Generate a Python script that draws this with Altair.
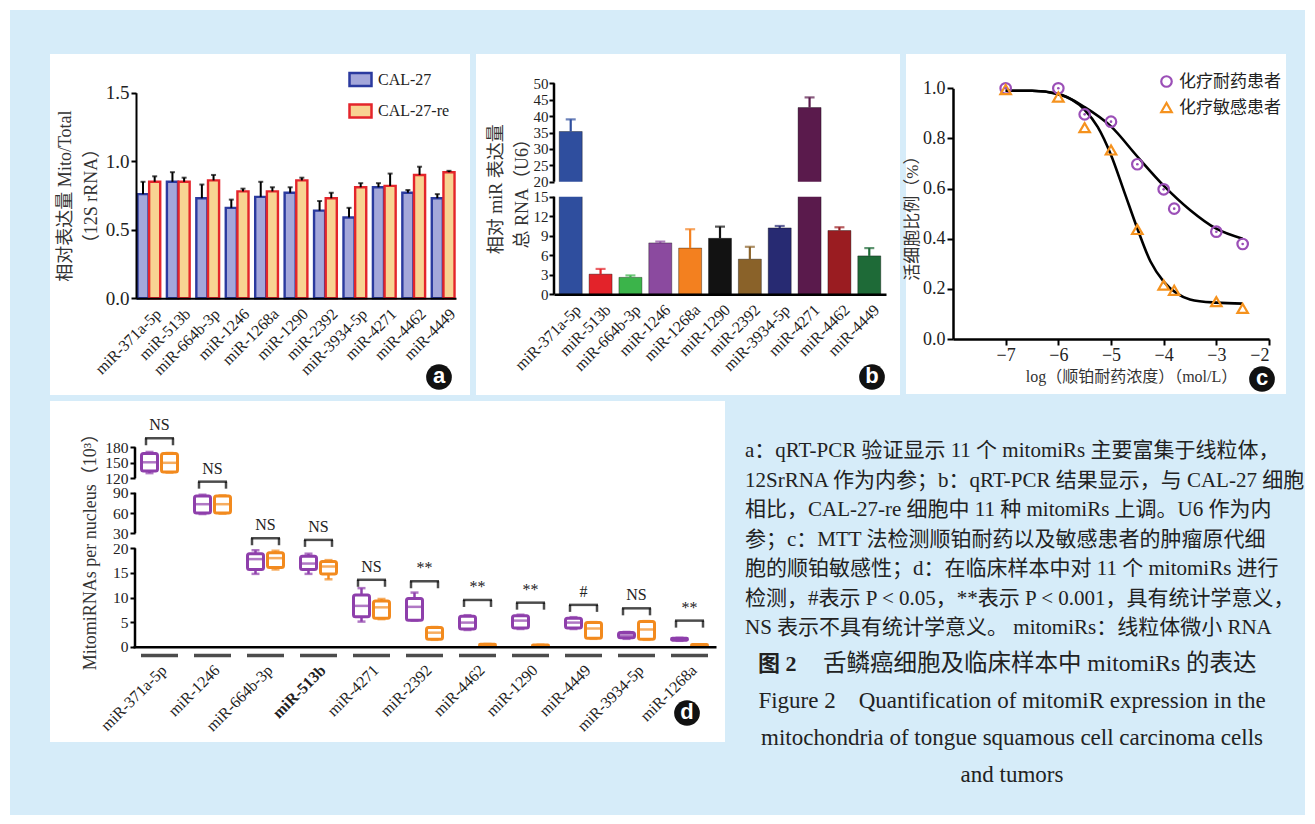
import altair as alt
import pandas as pd

H = 824
SERIF = "Liberation Serif"
MIX = "Liberation Serif, Noto Sans CJK SC"
CJK = "Noto Sans CJK SC"

# ---------------- data ----------------
mirs_ab = ["miR-371a-5p", "miR-513b", "miR-664b-3p", "miR-1246", "miR-1268a", "miR-1290",
           "miR-2392", "miR-3934-5p", "miR-4271", "miR-4462", "miR-4449"]
series_a = ["CAL-27", "CAL-27-re"]
a_cal27 = [0.76, 0.85, 0.73, 0.66, 0.74, 0.77, 0.64, 0.59, 0.81, 0.77, 0.73]
a_cal27_top = [0.85, 0.92, 0.83, 0.72, 0.85, 0.81, 0.71, 0.66, 0.84, 0.79, 0.76]
a_cal27re = [0.85, 0.85, 0.86, 0.78, 0.78, 0.86, 0.73, 0.81, 0.82, 0.90, 0.92]
a_cal27re_top = [0.89, 0.88, 0.90, 0.80, 0.81, 0.88, 0.77, 0.84, 0.91, 0.96, 0.93]

b_values = [35.3, 3.1, 2.6, 7.9, 7.1, 8.6, 5.4, 10.2, 42.6, 9.8, 5.9]
b_tops = [39.0, 3.9, 2.9, 8.1, 10.0, 10.4, 7.3, 10.5, 45.7, 10.3, 7.1]
b_colors = ["#2f4e9e", "#e3232a", "#3bb44a", "#8b4a9f", "#f3801f", "#121212",
            "#8a6229", "#272a72", "#5a1a4c", "#9a1c21", "#1e6a37"]
b_seg_lo = [0, 20]
b_seg_hi = [15, 50]
b_ticks = [0, 3, 6, 9, 12, 15, 20, 25, 30, 35, 40, 45, 50]

c_groups = ["化疗耐药患者", "化疗敏感患者"]
c_x = [-7, -6, -5.5, -5, -4.5, -4, -3.8, -3, -2.5]
c_resistant = [1.0, 1.0, 0.896, 0.867, 0.697, 0.597, 0.52, 0.428, 0.379]
c_sensitive = [0.995, 0.965, 0.843, 0.754, 0.437, 0.215, 0.194, 0.149, 0.122]
c_fit_res_x = [-7, -6.5, -6, -5.5, -5, -4.5, -4, -3.5, -3, -2.5]
c_fit_res_y = [0.99, 0.99, 0.978, 0.925, 0.848, 0.728, 0.612, 0.515, 0.44, 0.40]
c_fit_sen_x = [-7, -6.5, -6, -5.5, -5.25, -5, -4.75, -4.5, -4.25, -4, -3.75, -3.5, -3, -2.5]
c_fit_sen_y = [0.99, 0.99, 0.976, 0.914, 0.845, 0.734, 0.588, 0.441, 0.309, 0.229, 0.182, 0.158, 0.145, 0.141]

d_mirs = ["miR-371a-5p", "miR-1246", "miR-664b-3p", "miR-513b", "miR-4271", "miR-2392",
          "miR-4462", "miR-1290", "miR-4449", "miR-3934-5p", "miR-1268a"]
d_groups = ["化疗耐药患者", "化疗敏感患者"]
d_res_lo = [130, 58.5, 14.8, 14.8, 5.1, 5.3, 3.4, 3.6, 3.6, 1.6, 1.2]
d_res_q1 = [134, 60, 15.7, 15.7, 6.1, 5.4, 3.6, 3.8, 3.8, 1.8, 1.3]
d_res_med = [151, 73, 17.8, 16.9, 8.3, 8.1, 4.9, 5.3, 4.9, 2.3, 1.5]
d_res_q3 = [168, 85, 18.9, 18.4, 10.5, 9.8, 6.2, 6.3, 5.8, 2.9, 1.7]
d_res_hi = [171, 87, 19.6, 18.9, 11.9, 11.0, 6.4, 6.5, 6.0, 3.0, 1.8]
d_sen_lo = [131, 59, 15.7, 13.7, 5.6, 1.4, 0.05, 0.05, 1.6, 1.4, 0.05]
d_sen_q1 = [132, 60, 16.1, 14.8, 5.8, 1.5, 0.1, 0.1, 1.7, 1.5, 0.1]
d_sen_med = [150, 73, 18.0, 16.3, 8.0, 2.85, 0.3, 0.2, 3.7, 3.5, 0.3]
d_sen_q3 = [168, 85, 19.1, 17.3, 9.3, 3.9, 0.5, 0.35, 4.9, 5.1, 0.45]
d_sen_hi = [169, 86, 19.5, 17.6, 9.7, 4.0, 0.55, 0.4, 5.0, 5.2, 0.5]
d_bracket = [197.5, 113, 26.7, 25.6, 13.6, 13.3, 9.5, 8.95, 8.5, 7.8, 5.3]
d_sig = ["NS", "NS", "NS", "NS", "NS", "**", "**", "**", "#", "NS", "**"]
d_seg_lo = [0, 30, 120]
d_seg_hi = [20, 90, 180]
d_ticks = [0, 5, 10, 15, 20, 30, 60, 90, 120, 150, 180]

caption_body = [
    "a：qRT-PCR 验证显示 11 个 mitomiRs 主要富集于线粒体，",
    "12SrRNA 作为内参；b：qRT-PCR 结果显示，与 CAL-27 细胞",
    "相比，CAL-27-re 细胞中 11 种 mitomiRs 上调。U6 作为内",
    "参；c：MTT 法检测顺铂耐药以及敏感患者的肿瘤原代细",
    "胞的顺铂敏感性；d：在临床样本中对 11 个 mitomiRs 进行",
    "检测，#表示 P < 0.05，**表示 P < 0.001，具有统计学意义，",
    "NS 表示不具有统计学意义。 mitomiRs：线粒体微小 RNA",
]
caption_fig_cn_a = "图 2"
caption_fig_cn_b = "舌鳞癌细胞及临床样本中 mitomiRs 的表达"
caption_fig_en = [
    "Figure 2　Quantification of mitomiR expression in the",
    "mitochondria of tongue squamous cell carcinoma cells",
    "and tumors",
]

one = pd.DataFrame({"k": [0]})

# ---------------- background panels ----------------
def box_rect(x0, x1, y0, y1, color):
    return alt.Chart(one).mark_rect(color=color).encode(
        x=alt.value(x0), x2=alt.value(x1), y=alt.value(y0), y2=alt.value(y1))

bg = alt.layer(
    box_rect(10, 1305, 10, 815, "#d6ecf9"),
    box_rect(50, 470, 54, 395, "white"),
    box_rect(476, 900, 54, 395, "white"),
    box_rect(906, 1286, 54, 394, "white"),
    box_rect(50, 725, 401, 742, "white"),
)

common_axis = dict(domainColor="black", tickColor="black", labelColor="#222",
                   titleColor="#333", grid=False, zindex=1, labelOverlap=False)

# ---------------- panel a ----------------
df_a = pd.DataFrame({
    "mir": mirs_ab * 2,
    "series": [series_a[0]] * 11 + [series_a[1]] * 11,
    "value": a_cal27 + a_cal27re,
    "top": a_cal27_top + a_cal27re_top,
})
xa = alt.X("mir:N", scale=alt.Scale(domain=mirs_ab, range=[136, 456], paddingInner=0.227, paddingOuter=0.05),
           axis=alt.Axis(orient="bottom", offset=298.3 - H, title=None, labelAngle=-45, ticks=False,
                         domainWidth=2, labelFont=SERIF, labelFontSize=16, labelPadding=7, labelOffset=4,
                         **common_axis))
xoa = alt.XOffset("series:N", scale=alt.Scale(domain=series_a, paddingInner=0.05))
sc_ya = alt.Scale(domain=[0, 1.5], range=[298.3, 92.7], nice=False, zero=False)
ax_ya = alt.Axis(orient="left", offset=-136, values=[0, 0.5, 1.0, 1.5], format=".1f",
                 title=["相对表达量 Mito/Total", "（12S rRNA）"], titleFont=MIX, titleFontSize=18,
                 titleFontWeight="normal", titleLineHeight=26, titlePadding=5,
                 labelFont=SERIF, labelFontSize=19, tickSize=5, tickWidth=2, domainWidth=2, **common_axis)
leg_a = dict(orient="none", legendX=348, legendY=67, title=None, symbolType="M-1,-0.6H1V0.6H-1Z",
             symbolSize=484, symbolStrokeWidth=2.5, labelFont=SERIF, labelFontSize=16, labelOffset=5,
             rowPadding=6.5, padding=0, labelColor="#222")
base_a = alt.Chart(df_a)
bars_a = base_a.mark_bar(strokeWidth=2.4).encode(
    x=xa, xOffset=xoa,
    y=alt.Y("value:Q", scale=sc_ya, axis=ax_ya), y2=alt.datum(0),
    fill=alt.Fill("series:N", scale=alt.Scale(domain=series_a, range=["#a4a7da", "#f8d392"]),
                  legend=alt.Legend(**leg_a)),
    stroke=alt.Stroke("series:N", scale=alt.Scale(domain=series_a, range=["#2b3a9f", "#e4252b"]),
                      legend=alt.Legend(**leg_a)),
)
err_a = base_a.mark_rule(color="black", strokeWidth=2).encode(
    x=xa, xOffset=xoa, y=alt.Y("value:Q", scale=sc_ya, axis=ax_ya), y2="top:Q")
cap_a = base_a.mark_tick(color="black", thickness=2, size=5).encode(
    x=xa, xOffset=xoa, y=alt.Y("top:Q", scale=sc_ya, axis=ax_ya))
panel_a = alt.layer(bars_a, err_a, cap_a)

# ---------------- panel b ----------------
df_b = pd.DataFrame({"mir": mirs_ab, "value": b_values, "top": b_tops})
df_bseg = pd.DataFrame({"lo": b_seg_lo, "hi": b_seg_hi})
xb = alt.X("mir:N", scale=alt.Scale(domain=mirs_ab, range=[554, 886], paddingInner=0.23, paddingOuter=0.175),
           axis=alt.Axis(orient="bottom", offset=294.3 - H, title=None, labelAngle=-45, ticks=False,
                         domainWidth=2.5, labelFont=SERIF, labelFontSize=16, labelPadding=7, labelOffset=2,
                         **common_axis))
sc_yb = alt.Scale(domain=[0, 15, 20, 50], range=[294.3, 196.7, 181.7, 83.3], nice=False, zero=False)
ax_yb = alt.Axis(orient="left", offset=-554, values=b_ticks, domain=False,
                 title=["相对 miR 表达量", "总 RNA（U6）"], titleFont=MIX, titleFontSize=18,
                 titleFontWeight="normal", titleLineHeight=26, titlePadding=2,
                 labelFont=SERIF, labelFontSize=15, labelPadding=1, tickSize=5, tickWidth=2, **common_axis)
colb = alt.Color("mir:N", scale=alt.Scale(domain=mirs_ab, range=b_colors), legend=None)
base_b = alt.Chart(df_b)
bars_b = base_b.mark_bar(stroke="#000", strokeWidth=0.8, strokeOpacity=0.45).encode(
    x=xb, y=alt.Y("value:Q", scale=sc_yb, axis=ax_yb), y2=alt.datum(0), color=colb)
err_b = base_b.mark_rule(strokeWidth=2.2).encode(
    x=xb, y=alt.Y("value:Q", scale=sc_yb, axis=ax_yb), y2="top:Q", color=colb)
cap_b = base_b.mark_tick(thickness=2.2, size=10).encode(
    x=xb, y=alt.Y("top:Q", scale=sc_yb, axis=ax_yb), color=colb)
gap_b = alt.Chart(one).mark_rect(color="white").encode(
    x=alt.value(556), x2=alt.value(892), y=alt.Y(datum=15, scale=sc_yb, axis=ax_yb), y2=alt.datum(20))
axis_b = alt.Chart(df_bseg).mark_rule(color="black", strokeWidth=2.5).encode(
    x=alt.value(554), y=alt.Y("lo:Q", scale=sc_yb, axis=ax_yb), y2="hi:Q")
panel_b = alt.layer(bars_b, err_b, cap_b, gap_b, axis_b)

# ---------------- panel c ----------------
df_c = pd.DataFrame({
    "x": c_x * 2,
    "y": c_resistant + c_sensitive,
    "grp": [c_groups[0]] * len(c_x) + [c_groups[1]] * len(c_x),
})
df_cfit = pd.DataFrame({
    "x": c_fit_res_x + c_fit_sen_x,
    "y": c_fit_res_y + c_fit_sen_y,
    "curve": ["r"] * len(c_fit_res_x) + ["s"] * len(c_fit_sen_x),
})
xc_scale = alt.Scale(domain=[-8, -2], range=[953, 1269], nice=False, zero=False)
ax_xc = alt.Axis(orient="bottom", offset=339 - H, values=[-7, -6, -5, -4, -3, -2], format="d",
                 title="log（顺铂耐药浓度）（mol/L）", titleFont=MIX, titleFontSize=16,
                 titleFontWeight="normal", titleX=1131, titleY=37, titleBaseline="middle",
                 labelFont=SERIF, labelFontSize=18, tickSize=6, tickWidth=2, domainWidth=2.5,
                 labelPadding=1, **common_axis)
yc_scale = alt.Scale(domain=[0, 1], range=[339, 88.3], nice=False, zero=False)
ax_yc = alt.Axis(orient="left", offset=-953, values=[0, 0.2, 0.4, 0.6, 0.8, 1.0], format=".1f",
                 title="活细胞比例（%）", titleFont=MIX, titleFontSize=17, titleFontWeight="normal",
                 titlePadding=1, labelFont=SERIF, labelFontSize=18, tickSize=6, tickWidth=2,
                 domainWidth=2.5, labelPadding=2, **common_axis)
leg_c = dict(orient="none", legendX=1158, legendY=73, title=None, symbolSize=110, symbolStrokeWidth=2.2,
             labelFont=CJK, labelFontSize=17, labelOffset=4, rowPadding=6, padding=0, labelColor="#222")
lines_c = alt.Chart(df_cfit).mark_line(color="black", strokeWidth=2.6, interpolate="monotone").encode(
    x=alt.X("x:Q", scale=xc_scale, axis=ax_xc), y=alt.Y("y:Q", scale=yc_scale, axis=ax_yc),
    detail="curve:N")
pts_c = alt.Chart(df_c).mark_point(filled=False, size=110, strokeWidth=2.2, opacity=1).encode(
    x=alt.X("x:Q", scale=xc_scale, axis=ax_xc), y=alt.Y("y:Q", scale=yc_scale, axis=ax_yc),
    shape=alt.Shape("grp:N", scale=alt.Scale(domain=c_groups, range=["circle", "triangle-up"]),
                    legend=alt.Legend(**leg_c)),
    stroke=alt.Stroke("grp:N", scale=alt.Scale(domain=c_groups, range=["#9b4fb7", "#f5921e"]),
                      legend=alt.Legend(**leg_c)),
)
dots_c = alt.Chart(df_c).transform_filter(alt.datum.grp == c_groups[0]).mark_point(
    filled=True, size=7, color="#9b4fb7", opacity=1).encode(
    x=alt.X("x:Q", scale=xc_scale, axis=ax_xc), y=alt.Y("y:Q", scale=yc_scale, axis=ax_yc))
panel_c = alt.layer(lines_c, pts_c, dots_c)

# ---------------- panel d ----------------
df_d = pd.DataFrame({
    "mir": d_mirs * 2,
    "grp": [d_groups[0]] * 11 + [d_groups[1]] * 11,
    "lo": d_res_lo + d_sen_lo,
    "q1": d_res_q1 + d_sen_q1,
    "med": d_res_med + d_sen_med,
    "q3": d_res_q3 + d_sen_q3,
    "hi": d_res_hi + d_sen_hi,
})
df_dsig = pd.DataFrame({"mir": d_mirs, "br": d_bracket, "lab": d_sig})
df_dseg = pd.DataFrame({"lo": d_seg_lo, "hi": d_seg_hi})
xd = alt.X("mir:N", scale=alt.Scale(domain=d_mirs, range=[133, 716], paddingInner=0, paddingOuter=0),
           axis=alt.Axis(orient="bottom", offset=646.7 - H, title=None, labelAngle=-45, ticks=False,
                         domainWidth=2.5, labelFont=SERIF, labelFontSize=16, labelPadding=15, labelOffset=-1,
                         labelFontWeight=alt.condition("datum.value == 'miR-513b'", alt.value("bold"),
                                                       alt.value("normal")),
                         **common_axis))
xod = alt.XOffset("grp:N", scale=alt.Scale(domain=d_groups, paddingInner=0.2, paddingOuter=0.425))
sc_yd = alt.Scale(domain=[0, 20, 30, 90, 120, 180], range=[646.7, 548.3, 533.3, 492.7, 478.3, 447.3],
                  nice=False, zero=False)
ax_yd = alt.Axis(orient="left", offset=-135, values=d_ticks, domain=False,
                 title="MitomiRNAs per nucleus（10³）", titleFont=MIX, titleFontSize=18,
                 titleFontWeight="normal", titlePadding=5, labelFont=SERIF, labelFontSize=15.5,
                 labelPadding=2, tickSize=5, tickWidth=2, **common_axis)
dcol = alt.Scale(domain=d_groups, range=["#8e3fab", "#f28a1e"])
leg_d = dict(orient="none", legendX=543, legendY=412, title=None, symbolType="M-1,-0.55H1V0.55H-1Z",
             symbolSize=576, symbolStrokeWidth=3, symbolFillColor="white", labelFont=CJK,
             labelFontSize=17, labelOffset=6, rowPadding=4, padding=0, labelColor="#222")
base_d = alt.Chart(df_d)
whisk_d = base_d.mark_rule(strokeWidth=2.5).encode(
    x=xd, xOffset=xod, y=alt.Y("lo:Q", scale=sc_yd, axis=ax_yd), y2="hi:Q",
    color=alt.Color("grp:N", scale=dcol, legend=None))
caplo_d = base_d.mark_tick(thickness=2.5, size=8).encode(
    x=xd, xOffset=xod, y=alt.Y("lo:Q", scale=sc_yd, axis=ax_yd),
    color=alt.Color("grp:N", scale=dcol, legend=None))
caphi_d = base_d.mark_tick(thickness=2.5, size=8).encode(
    x=xd, xOffset=xod, y=alt.Y("hi:Q", scale=sc_yd, axis=ax_yd),
    color=alt.Color("grp:N", scale=dcol, legend=None))
box_d = base_d.mark_bar(fill="white", strokeWidth=3, cornerRadius=2).encode(
    x=xd, xOffset=xod, y=alt.Y("q1:Q", scale=sc_yd, axis=ax_yd), y2="q3:Q",
    stroke=alt.Stroke("grp:N", scale=dcol, legend=alt.Legend(**leg_d)))
med_d = base_d.mark_tick(thickness=2.5, size=16).encode(
    x=xd, xOffset=xod, y=alt.Y("med:Q", scale=sc_yd, axis=ax_yd),
    color=alt.Color("grp:N", scale=dcol, legend=None))
base_s = alt.Chart(df_dsig)
br_h = base_s.mark_tick(color="black", thickness=2.5, size=29).encode(
    x=xd, y=alt.Y("br:Q", scale=sc_yd, axis=ax_yd))
br_l = base_s.mark_tick(color="black", thickness=2.5, size=7, orient="vertical", xOffset=-13.5, yOffset=3.5).encode(
    x=xd, y=alt.Y("br:Q", scale=sc_yd, axis=ax_yd))
br_r = base_s.mark_tick(color="black", thickness=2.5, size=7, orient="vertical", xOffset=13.5, yOffset=3.5).encode(
    x=xd, y=alt.Y("br:Q", scale=sc_yd, axis=ax_yd))
lab_d = base_s.mark_text(font=SERIF, fontSize=16, color="#222", dy=-13, baseline="middle").encode(
    x=xd, y=alt.Y("br:Q", scale=sc_yd, axis=ax_yd), text="lab:N")
dash_d = base_s.mark_tick(color="black", thickness=3.5, size=37, orient="horizontal").encode(
    x=xd, y=alt.value(655.5))
axis_d = alt.Chart(df_dseg).mark_rule(color="black", strokeWidth=2.5).encode(
    x=alt.value(135), y=alt.Y("lo:Q", scale=sc_yd, axis=ax_yd), y2="hi:Q")
panel_d = alt.layer(axis_d, whisk_d, box_d, caplo_d, caphi_d, med_d, br_h, br_l, br_r, lab_d, dash_d)

# ---------------- caption (each block has its own y scale) ----------------
df_cap1 = pd.DataFrame({"idx1": list(range(len(caption_body))), "t": caption_body})
df_cap3 = pd.DataFrame({"idx3": list(range(len(caption_fig_en))), "t": caption_fig_en})
cap1 = alt.Chart(df_cap1).mark_text(font=MIX, fontSize=21, color="#222", align="left", baseline="middle").encode(
    x=alt.value(745), y=alt.Y("idx1:Q", scale=alt.Scale(domain=[0, 6], range=[451, 628]), axis=None), text="t:N")
cap2a = alt.Chart(one).mark_text(font=MIX, fontSize=22, fontWeight="bold", color="#222", align="left",
                                 baseline="middle", text=caption_fig_cn_a).encode(
    x=alt.value(758), y=alt.value(664))
cap2b = alt.Chart(one).mark_text(font=MIX, fontSize=23.5, color="#222", align="left",
                                 baseline="middle", text=caption_fig_cn_b).encode(
    x=alt.value(823), y=alt.value(664))
cap3 = alt.Chart(df_cap3).mark_text(font=SERIF, fontSize=23, color="#222", align="center", baseline="middle").encode(
    x=alt.value(1012), y=alt.Y("idx3:Q", scale=alt.Scale(domain=[0, 2], range=[701, 775]), axis=None), text="t:N")

# ---------------- panel letters ----------------
def letter(ch, x, y):
    circ = alt.Chart(one).mark_circle(size=660, color="#111", opacity=1).encode(x=alt.value(x), y=alt.value(y))
    txt = alt.Chart(one).mark_text(text=ch, font="Liberation Sans", fontSize=22, fontWeight="bold",
                                   color="white", align="center", baseline="middle", dy=-1).encode(
        x=alt.value(x), y=alt.value(y))
    return alt.layer(circ, txt)

letters = alt.layer(letter("a", 439, 377), letter("b", 872, 377), letter("c", 1262, 379), letter("d", 687, 713))

chart = alt.layer(bg, panel_a, panel_b, panel_c, panel_d, cap1, cap2a, cap2b, cap3, letters).resolve_scale(
    x="independent", y="independent", xOffset="independent", color="independent",
    fill="independent", stroke="independent", shape="independent",
).resolve_axis(x="independent", y="independent").resolve_legend(
    color="independent", fill="independent", stroke="independent", shape="independent",
).properties(
    width=1315, height=824, autosize=alt.AutoSizeParams(type="none"), padding=0,
).configure(background="white").configure_view(stroke="transparent").configure_axis(zindex=1)

chart.save("out.html", embed_options={"renderer": "svg", "actions": False})
